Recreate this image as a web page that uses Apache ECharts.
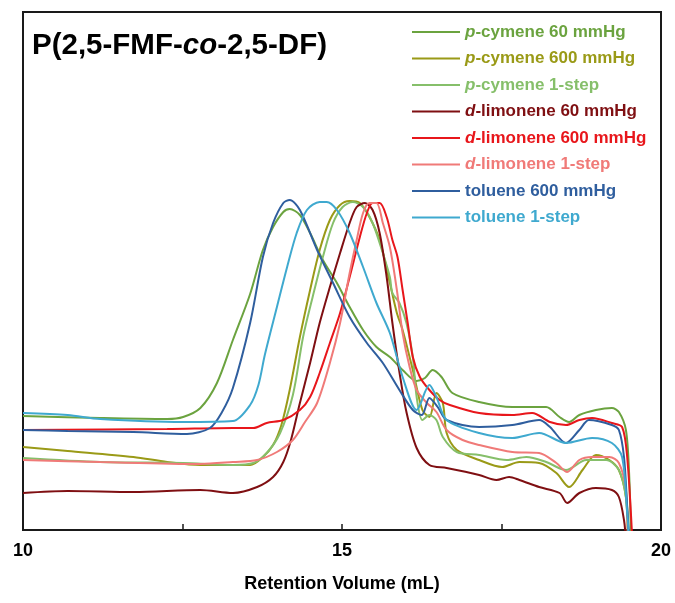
<!DOCTYPE html>
<html>
<head>
<meta charset="utf-8">
<script src="https://cdn.jsdelivr.net/npm/echarts@6/dist/echarts.min.js"></script>
<style>
html,body{margin:0;padding:0;background:#fff;}
#chart{width:675px;height:603px;}
</style>
</head>
<body>
<div id="chart"></div>
<script>
// Retention volume (mL) vs detector signal (arbitrary units)
const seriesNames = [
  'p-cymene 60 mmHg', 'p-cymene 600 mmHg', 'p-cymene 1-step',
  'd-limonene 60 mmHg', 'd-limonene 600 mmHg', 'd-limonene 1-step',
  'toluene 600 mmHg', 'toluene 1-step'
];
const seriesColors = ['#6BA33F', '#9A9A17', '#86BF6A', '#7F0F12', '#E8161B', '#F07A78', '#2F5E9E', '#3FA9CF'];

const pCymene60 = [[10,114],[11.21,112],[12.26,111],[12.51,113],[12.78,122],[13.04,147],[13.29,190],[13.56,236],[13.76,280],[13.92,303],[14.08,318],[14.18,321],[14.34,315],[14.50,297],[14.70,270],[14.92,247],[15.12,223],[15.33,200],[15.54,183],[15.75,173],[15.95,160],[16.17,149],[16.30,152],[16.42,160],[16.56,153],[16.73,137],[17.15,128],[17.67,123],[18.20,123],[18.41,113],[18.56,108],[18.72,115],[18.98,120],[19.23,122],[19.34,118],[19.45,100],[19.50,57],[19.53,-10]];
const pCymene600 = [[10,83],[10.7,79],[11.73,73],[12.26,68],[12.78,65],[13.56,65],[13.76,73],[13.92,85],[14.05,105],[14.18,140],[14.34,193],[14.50,240],[14.65,280],[14.81,310],[14.97,325],[15.12,329],[15.28,327],[15.43,313],[15.59,290],[15.75,247],[15.86,217],[15.95,200],[16.11,160],[16.26,120],[16.37,113],[16.48,137],[16.58,127],[16.64,97],[16.80,80],[17.15,70],[17.51,63],[17.78,68],[18.09,67],[18.36,57],[18.56,43],[18.77,60],[18.98,75],[19.19,70],[19.34,60],[19.45,33],[19.48,-10]];
const pCymene1 = [[10,72],[11.21,68],[12.51,67],[13.29,65],[13.61,67],[13.82,77],[14.03,97],[14.23,135],[14.39,193],[14.54,233],[14.70,273],[14.86,307],[15.01,323],[15.17,328],[15.33,323],[15.48,307],[15.64,277],[15.75,253],[15.79,237],[15.90,227],[16.01,207],[16.11,173],[16.17,133],[16.26,110],[16.37,115],[16.48,110],[16.58,93],[16.80,78],[17.15,75],[17.58,70],[17.89,73],[18.20,68],[18.51,60],[18.83,70],[19.14,70],[19.34,60],[19.45,33],[19.50,-10]];
const dLimonene60 = [[10,37],[10.7,39],[11.73,38],[12.78,40],[13.29,37],[13.67,43],[13.92,53],[14.08,68],[14.20,90],[14.34,127],[14.50,167],[14.65,207],[14.81,243],[14.97,277],[15.12,307],[15.23,323],[15.36,327],[15.48,320],[15.59,297],[15.70,253],[15.79,207],[15.90,158],[16.01,118],[16.17,82],[16.37,65],[16.64,62],[17.15,55],[17.42,50],[17.62,53],[17.78,50],[18.09,43],[18.41,37],[18.53,27],[18.72,37],[18.98,42],[19.23,40],[19.34,33],[19.42,10],[19.45,-10]];
const dLimonene600 = [[10,100],[12.26,101],[13.29,102],[13.61,102],[13.82,107],[14.08,110],[14.34,120],[14.50,133],[14.65,157],[14.81,187],[14.97,217],[15.12,253],[15.28,293],[15.39,317],[15.48,327],[15.59,327],[15.70,313],[15.79,290],[15.87,273],[15.95,240],[16.03,207],[16.11,173],[16.22,153],[16.37,140],[16.53,130],[16.69,125],[17.15,117],[17.67,115],[17.98,117],[18.26,108],[18.51,105],[18.72,110],[18.92,112],[19.23,107],[19.39,103],[19.47,73],[19.55,-10]];
const dLimonene1 = [[10,70],[11.21,68],[12.78,66],[13.29,68],[13.67,70],[13.98,78],[14.23,90],[14.42,108],[14.61,127],[14.81,167],[14.97,207],[15.12,257],[15.23,290],[15.33,317],[15.43,327],[15.54,327],[15.64,307],[15.75,283],[15.86,240],[15.95,197],[16.06,163],[16.17,140],[16.33,127],[16.48,118],[16.64,100],[16.89,90],[17.15,85],[17.67,78],[18.09,77],[18.36,67],[18.53,58],[18.72,70],[18.92,73],[19.19,73],[19.34,67],[19.45,40],[19.48,-10]];
const toluene600 = [[10,100],[10.7,99],[11.73,98],[12.57,96],[12.93,102],[13.12,118],[13.29,142],[13.56,207],[13.76,273],[13.92,307],[14.08,327],[14.18,330],[14.34,320],[14.61,280],[14.86,247],[15.12,213],[15.39,187],[15.64,167],[15.90,140],[16.11,120],[16.25,115],[16.37,132],[16.50,123],[16.64,110],[17.15,103],[17.67,105],[18.09,110],[18.26,103],[18.51,87],[18.72,100],[18.87,110],[19.23,105],[19.34,100],[19.42,73],[19.47,23],[19.50,-10]];
const toluene1 = [[10,117],[10.7,115],[11.21,111],[12.51,108],[13.29,109],[13.56,125],[13.69,145],[13.79,175],[13.98,223],[14.14,263],[14.29,297],[14.45,320],[14.65,328],[14.76,328],[14.92,320],[15.12,297],[15.33,263],[15.54,227],[15.75,197],[15.95,153],[16.17,120],[16.37,145],[16.48,133],[16.64,110],[17.15,97],[17.67,92],[18.09,97],[18.51,87],[18.92,92],[19.23,87],[19.39,73],[19.47,17],[19.50,-10]];

const seriesData = [pCymene60, pCymene600, pCymene1, dLimonene60, dLimonene600, dLimonene1, toluene600, toluene1];
const xTickLabels = ['10', '15', '20'];

const FONT = '"Liberation Sans", Arial, sans-serif';
const LEG_FS = 17;

const chart = echarts.init(document.getElementById('chart'), null, {renderer: 'canvas'});

const legendData = seriesNames.map((n, i) => ({
  name: n,
  icon: 'rect',
  itemStyle: {color: seriesColors[i]},
  textStyle: {
    color: seriesColors[i],
    rich: {
      i: {fontStyle: 'italic', fontWeight: 'bold', fontSize: LEG_FS, color: seriesColors[i], fontFamily: FONT, lineHeight: 18},
      t: {fontWeight: 'bold', fontSize: LEG_FS, color: seriesColors[i], fontFamily: FONT, lineHeight: 18}
    }
  }
}));

chart.setOption({
  animation: false,
  backgroundColor: '#ffffff',
  title: {
    text: 'P(2,5-FMF-{i|co}-2,5-DF)',
    left: 27,
    top: 26,
    textStyle: {
      fontSize: 29.5, fontWeight: 'bold', color: '#000', fontFamily: FONT,
      rich: {i: {fontSize: 29.5, fontWeight: 'bold', fontStyle: 'italic', color: '#000', fontFamily: FONT}}
    }
  },
  legend: {
    orient: 'vertical',
    left: 412,
    top: 23,
    itemWidth: 48,
    itemHeight: 2.2,
    itemGap: 8.5,
    padding: 0,
    icon: 'rect',
    data: legendData,
    formatter: function (name) {
      if (name.indexOf('p-') === 0 || name.indexOf('d-') === 0) {
        return '{i|' + name.charAt(0) + '}{t|' + name.slice(1) + '}';
      }
      return '{t|' + name + '}';
    },
    textStyle: {fontSize: LEG_FS, fontWeight: 'bold', fontFamily: FONT, lineHeight: 18}
  },
  grid: {left: 23, right: 14, top: 12, bottom: 73, show: true, borderColor: '#1a1a1a', borderWidth: 2, backgroundColor: 'transparent'},
  xAxis: {
    type: 'value',
    min: 10, max: 20, interval: 2.5,
    axisLine: {show: true, lineStyle: {color: '#1a1a1a', width: 2}},
    axisTick: {show: true, inside: true, length: 6, lineStyle: {color: '#1a1a1a', width: 1.5}},
    axisLabel: {
      fontSize: 18, fontWeight: 'bold', color: '#000', fontFamily: FONT, margin: 12,
      showMinLabel: true, showMaxLabel: true,
      formatter: function (v) {
        const s = String(v);
        return xTickLabels.indexOf(s) >= 0 ? s : '';
      }
    },
    splitLine: {show: false},
    name: 'Retention Volume (mL)',
    nameLocation: 'middle',
    nameGap: 45,
    nameTextStyle: {fontSize: 18, fontWeight: 'bold', color: '#000', fontFamily: FONT}
  },
  yAxis: {
    type: 'value',
    min: 0, max: 518,
    axisLine: {show: true, lineStyle: {color: '#1a1a1a', width: 2}},
    axisTick: {show: false},
    axisLabel: {show: false},
    splitLine: {show: false}
  },
  series: seriesNames.map((n, i) => ({
    name: n,
    type: 'line',
    data: seriesData[i],
    symbol: 'none',
    smooth: 0.3,
    clip: true,
    color: seriesColors[i],
    lineStyle: {width: 2, color: seriesColors[i]}
  }))
});
</script>
</body>
</html>
